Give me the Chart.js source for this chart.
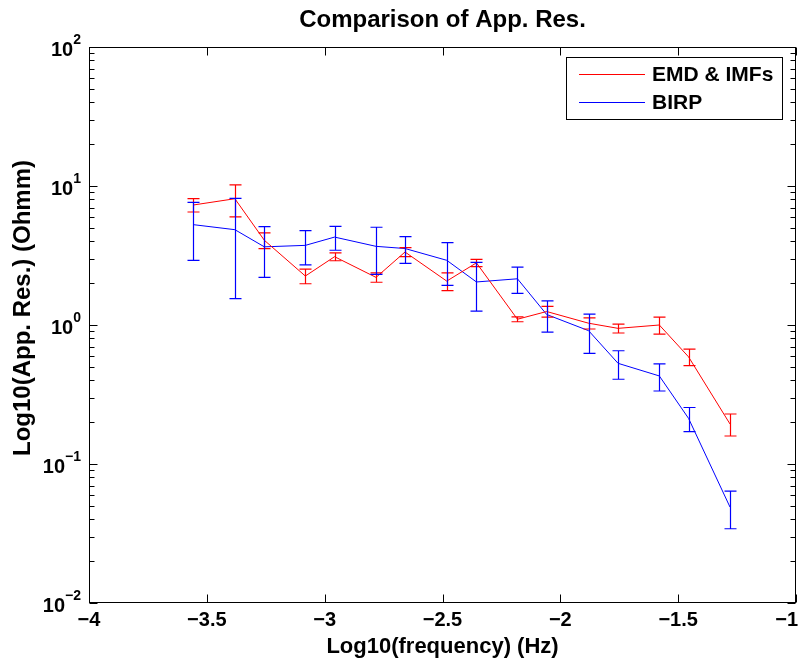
<!DOCTYPE html>
<html>
<head>
<meta charset="utf-8">
<title>Comparison of App. Res.</title>
<script src="https://cdn.jsdelivr.net/npm/chart.js@4.4.1/dist/chart.umd.min.js"></script>
<style>
  html, body { margin: 0; padding: 0; background: #fff; }
  #wrap { width: 799px; height: 661px; position: relative; }
</style>
</head>
<body>
<div id="wrap"><canvas id="res-chart"></canvas></div>
<script>
// log10 of frequency for each sounding band
const logFreq = [-3.557, -3.381, -3.256, -3.082, -2.958, -2.782, -2.659, -2.482,
                 -2.356, -2.182, -2.058, -1.880, -1.755, -1.580, -1.456, -1.280];

// apparent resistivity (Ohm-m) and its error, EMD & IMFs processing
const emdRes = [7.3, 8.1, 4.07, 2.25, 3.1, 2.2, 3.35, 2.07, 2.8, 1.1, 1.25, 1.03, 0.946, 1.0, 0.59, 0.194];
const emdErr = [0.8, 2.1, 0.53, 0.27, 0.2, 0.17, 0.25, 0.3, 0.17, 0.045, 0.11, 0.094, 0.07, 0.14, 0.08, 0.035];

// same thing from BIRP
const birpRes = [5.27, 4.85, 3.65, 3.74, 4.29, 3.68, 3.55, 2.92, 2.04, 2.15, 1.19, 0.91, 0.53, 0.43, 0.213, 0.049];
const birpErr = [2.35, 3.3, 1.45, 1.03, 0.84, 1.37, 0.77, 0.99, 0.78, 0.46, 0.30, 0.286, 0.123, 0.095, 0.042, 0.0148];

const seriesNames = ['EMD & IMFs', 'BIRP'];
const seriesColors = ['#ff0000', '#0000ff'];

const xTickValues = [-4, -3.5, -3, -2.5, -2, -1.5, -1];
const yTickValues = [0.01, 0.1, 1, 10, 100];
const yTitle = 'Log10(App. Res.) (Ohmm)';

const FONT = "'Liberation Sans', Arial, Helvetica, sans-serif";

function toPoints(xs, ys, es) {
    return xs.map((x, i) => ({ x: x, y: ys[i], err: es[i] }));
}

// error bars with caps, symmetric in linear units like matlab's errorbar
const errorBars = {
    id: 'errorBars',
    afterDatasetsDraw(chart) {
        const ctx = chart.ctx;
        const xs = chart.scales.x, ys = chart.scales.y;
        const cap = 6;
        ctx.save();
        ctx.lineWidth = 1.2;
        chart.data.datasets.forEach(ds => {
            ctx.strokeStyle = ds.borderColor;
            ds.data.forEach(p => {
                const px = Math.round(xs.getPixelForValue(p.x)) + 0.5;
                const yTop = ys.getPixelForValue(p.y + p.err);
                const yBot = ys.getPixelForValue(p.y - p.err);
                ctx.beginPath();
                ctx.moveTo(px, yTop); ctx.lineTo(px, yBot);
                ctx.moveTo(px - cap, yTop); ctx.lineTo(px + cap, yTop);
                ctx.moveTo(px - cap, yBot); ctx.lineTo(px + cap, yBot);
                ctx.stroke();
            });
        });
        ctx.restore();
    }
};

// box, inward ticks, tick labels, y label and legend
const axesBox = {
    id: 'axesBox',
    afterDraw(chart) {
        const ctx = chart.ctx;
        const a = chart.chartArea;
        const xs = chart.scales.x, ys = chart.scales.y;
        const L = Math.round(a.left) + 0.5, R = Math.round(a.right) - 0.5;
        const T = Math.round(a.top) + 0.5, B = Math.round(a.bottom) - 0.5;
        ctx.save();
        ctx.strokeStyle = '#000';
        ctx.lineWidth = 1;
        ctx.strokeRect(L, T, R - L, B - T);

        ctx.beginPath();
        // x ticks, bottom and top
        xTickValues.forEach(v => {
            const px = Math.round(xs.getPixelForValue(v)) + 0.5;
            ctx.moveTo(px, B); ctx.lineTo(px, B - 8);
            ctx.moveTo(px, T); ctx.lineTo(px, T + 8);
        });
        // y ticks, major and minor, left and right
        yTickValues.forEach((v, i) => {
            const py = Math.round(ys.getPixelForValue(v)) + 0.5;
            ctx.moveTo(L, py); ctx.lineTo(L + 8, py);
            ctx.moveTo(R, py); ctx.lineTo(R - 8, py);
            if (i < yTickValues.length - 1) {
                for (let m = 2; m <= 9; m++) {
                    const my = Math.round(ys.getPixelForValue(m * v)) + 0.5;
                    ctx.moveTo(L, my); ctx.lineTo(L + 5, my);
                    ctx.moveTo(R, my); ctx.lineTo(R - 5, my);
                }
            }
        });
        ctx.stroke();

        ctx.fillStyle = '#000';

        // x tick labels, last one kept inside the canvas
        ctx.font = 'bold 20px ' + FONT;
        ctx.textAlign = 'center';
        ctx.textBaseline = 'middle';
        xTickValues.forEach(v => {
            const label = String(v).replace('-', '\u2212');
            const w = ctx.measureText(label).width;
            let px = xs.getPixelForValue(v);
            px = Math.min(px, chart.width - 1 - w / 2);
            ctx.fillText(label, px, a.bottom + 17);
        });

        // y tick labels as 10^n
        ctx.textBaseline = 'alphabetic';
        yTickValues.forEach(v => {
            const py = ys.getPixelForValue(v);
            const ex = String(Math.round(Math.log10(v))).replace('-', '\u2212');
            ctx.font = 'bold 14px ' + FONT;
            const ew = ctx.measureText(ex).width;
            const right = a.left - 8;
            ctx.textAlign = 'left';
            ctx.fillText(ex, right - ew, py - 3);
            ctx.font = 'bold 20px ' + FONT;
            ctx.textAlign = 'right';
            ctx.fillText('10', right - ew, py + 9);
        });

        // y axis label, rotated
        ctx.save();
        ctx.translate(23, 308);
        ctx.rotate(-Math.PI / 2);
        ctx.font = 'bold 24px ' + FONT;
        ctx.textAlign = 'center';
        ctx.textBaseline = 'middle';
        ctx.fillText(yTitle, 0, 0);
        ctx.restore();

        // legend
        const lx = 566, ly = 57, lw = 216, lh = 62;
        ctx.fillStyle = '#fff';
        ctx.fillRect(lx, ly, lw, lh);
        ctx.strokeRect(lx + 0.5, ly + 0.5, lw, lh);
        ctx.font = 'bold 21px ' + FONT;
        ctx.textAlign = 'left';
        ctx.textBaseline = 'middle';
        chart.data.datasets.forEach((ds, i) => {
            const rowY = Math.round(ly + 17 + i * 28) + 0.5;
            ctx.strokeStyle = ds.borderColor;
            ctx.beginPath();
            ctx.moveTo(lx + 13, rowY); ctx.lineTo(lx + 79, rowY);
            ctx.stroke();
            ctx.fillStyle = '#000';
            ctx.fillText(ds.label, lx + 86, rowY + 1);
        });
        ctx.restore();
    }
};

const ctx = document.getElementById('res-chart').getContext('2d');
new Chart(ctx, {
    type: 'line',
    data: {
        datasets: [
            {
                label: seriesNames[0],
                data: toPoints(logFreq, emdRes, emdErr),
                borderColor: seriesColors[0],
                backgroundColor: seriesColors[0],
                borderWidth: 1,
                pointRadius: 0,
                tension: 0
            },
            {
                label: seriesNames[1],
                data: toPoints(logFreq, birpRes, birpErr),
                borderColor: seriesColors[1],
                backgroundColor: seriesColors[1],
                borderWidth: 1,
                pointRadius: 0,
                tension: 0
            }
        ]
    },
    options: {
        responsive: true,
        maintainAspectRatio: false,
        animation: false,
        layout: { padding: { left: 0, right: 3, top: 0, bottom: 0 } },
        plugins: {
            legend: { display: false },
            tooltip: { enabled: false },
            title: {
                display: true,
                fullSize: false,
                text: 'Comparison of App. Res.',
                color: '#000',
                font: { family: FONT, size: 24, weight: 'bold', lineHeight: 1.2 },
                padding: { top: 6, bottom: 12.2 }
            }
        },
        scales: {
            x: {
                type: 'linear',
                min: -4,
                max: -1,
                grid: { display: false, drawTicks: false },
                border: { display: false },
                ticks: { display: false },
                title: {
                    display: true,
                    text: 'Log10(frequency) (Hz)',
                    color: '#000',
                    font: { family: FONT, size: 22, weight: 'bold', lineHeight: 1.2 },
                    padding: { top: 0, bottom: 1 }
                },
                afterFit: s => {
                    s.height = 58;
                    s.paddingLeft = 0;
                    s.paddingRight = 0;
                }
            },
            y: {
                type: 'logarithmic',
                min: 0.01,
                max: 100,
                grid: { display: false, drawTicks: false },
                border: { display: false },
                ticks: { display: false },
                afterFit: s => {
                    s.width = 89;
                    s.paddingTop = 0;
                    s.paddingBottom = 0;
                }
            }
        }
    },
    plugins: [errorBars, axesBox]
});
</script>
</body>
</html>
